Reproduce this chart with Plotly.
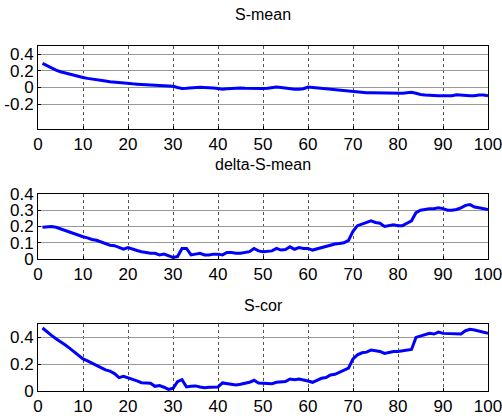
import plotly.graph_objects as go

x = list(range(1, 101))

s_mean = [0.29, 0.26, 0.23, 0.21, 0.19, 0.175, 0.16, 0.145, 0.13, 0.12,
          0.11, 0.10, 0.092, 0.085, 0.078, 0.07, 0.063, 0.057, 0.052, 0.048,
          0.044, 0.040, 0.036, 0.032, 0.028, 0.024, 0.02, 0.016, 0.012, 0.015,
          0.0, -0.012, -0.01, -0.005, 0.0, 0.002, 0.0, 0.0, -0.005, -0.012,
          -0.02, -0.015, -0.01, -0.005, -0.005, -0.01, -0.012, -0.012, -0.01, -0.012,
          -0.01, 0.0, 0.005, 0.0, -0.008, -0.015, -0.02, -0.02, -0.015, 0.005,
          0.0, -0.005, -0.01, -0.015, -0.025, -0.03, -0.035, -0.04, -0.045, -0.05,
          -0.058, -0.062, -0.062, -0.063, -0.065, -0.068, -0.07, -0.07, -0.07, -0.072,
          -0.07, -0.063, -0.058, -0.07, -0.085, -0.09, -0.095, -0.1, -0.1, -0.1,
          -0.1, -0.1, -0.088, -0.095, -0.1, -0.1, -0.1, -0.09, -0.09, -0.1]

delta_s_mean = [0.195, 0.198, 0.2, 0.195, 0.185, 0.178, 0.168, 0.158, 0.148, 0.137,
                0.13, 0.12, 0.115, 0.105, 0.092, 0.085, 0.082, 0.072, 0.06, 0.07,
                0.06, 0.052, 0.045, 0.04, 0.035, 0.035, 0.025, 0.03, 0.018, 0.01,
                0.015, 0.065, 0.065, 0.025, 0.03, 0.035, 0.025, 0.025, 0.03, 0.03,
                0.025, 0.04, 0.04, 0.035, 0.035, 0.04, 0.045, 0.065, 0.05, 0.045,
                0.048, 0.05, 0.065, 0.055, 0.058, 0.075, 0.06, 0.07, 0.065, 0.065,
                0.055, 0.062, 0.07, 0.08, 0.085, 0.092, 0.095, 0.1, 0.115, 0.17,
                0.205, 0.215, 0.225, 0.235, 0.225, 0.22, 0.2, 0.205, 0.21, 0.205,
                0.205, 0.22, 0.235, 0.285, 0.3, 0.305, 0.31, 0.31, 0.315, 0.31,
                0.3, 0.3, 0.305, 0.315, 0.33, 0.335, 0.32, 0.315, 0.31, 0.305]

s_cor = [0.47, 0.44, 0.415, 0.39, 0.37, 0.345, 0.32, 0.295, 0.27, 0.24,
         0.225, 0.21, 0.195, 0.175, 0.158, 0.148, 0.13, 0.1, 0.11, 0.1,
         0.088, 0.075, 0.062, 0.058, 0.058, 0.035, 0.04, 0.028, 0.012, 0.02,
         0.07, 0.085, 0.03, 0.035, 0.038, 0.03, 0.025, 0.028, 0.03, 0.03,
         0.06, 0.055, 0.048, 0.045, 0.05, 0.055, 0.065, 0.08, 0.06, 0.058,
         0.058, 0.055, 0.065, 0.067, 0.07, 0.09, 0.085, 0.09, 0.085, 0.075,
         0.065, 0.08, 0.095, 0.1, 0.12, 0.125, 0.14, 0.155, 0.17, 0.24,
         0.27, 0.285, 0.29, 0.305, 0.3, 0.295, 0.28, 0.29, 0.295, 0.295,
         0.3, 0.305, 0.31, 0.4, 0.41, 0.425, 0.43, 0.425, 0.44, 0.43,
         0.43, 0.43, 0.43, 0.425, 0.45, 0.46, 0.455, 0.445, 0.435, 0.43]

titles = ["S-mean", "delta-S-mean", "S-cor"]
series = [s_mean, delta_s_mean, s_cor]
y_ranges = [[-0.5, 0.5], [0, 0.4], [0, 0.5]]
y_ticks = [[-0.2, 0, 0.2, 0.4], [0, 0.1, 0.2, 0.3, 0.4], [0, 0.2, 0.4]]
y_ticklabels = [["-0.2", "0", "0.2", "0.4"], ["0", "0.1", "0.2", "0.3", "0.4"], ["0", "0.2", "0.4"]]
x_ticks = list(range(0, 101, 10))

W, H = 502, 420
x_dom = [38 / W, 488 / W]
y_px = [(46, 129), (194, 259), (324, 391)]
title_px = [15, 165, 305]

FONT = "Liberation Sans, Arial, sans-serif"

fig = go.Figure()
annotations = []
for i in range(3):
    n = "" if i == 0 else str(i + 1)
    fig.add_trace(go.Scatter(x=x, y=series[i], mode="lines",
                             line=dict(color="#0000ff", width=3),
                             xaxis="x" + n, yaxis="y" + n, showlegend=False))
    top, bot = y_px[i]
    fig.update_layout(**{
        "xaxis" + n: dict(domain=x_dom, range=[0, 100], tickvals=x_ticks,
                          anchor="y" + n, showline=True, mirror=True,
                          linecolor="black", linewidth=1, showgrid=True,
                          gridcolor="#555555", griddash="dot", gridwidth=1,
                          ticks="inside", ticklen=3, tickcolor="black",
                          automargin=False, ticklabeloverflow="allow",
                          zeroline=False, tickfont=dict(size=17, color="black", family=FONT)),
        "yaxis" + n: dict(domain=[1 - bot / H, 1 - top / H], range=y_ranges[i],
                          tickvals=y_ticks[i], ticktext=y_ticklabels[i],
                          anchor="x" + n, showline=True, mirror=True,
                          linecolor="black", linewidth=1, showgrid=True,
                          gridcolor="#999999", gridwidth=1, zeroline=False,
                          ticks="inside", ticklen=3, tickcolor="black",
                          automargin=False, ticklabeloverflow="allow",
                          tickfont=dict(size=17, color="black", family=FONT)),
    })
    annotations.append(dict(text=titles[i], x=0.5 * (x_dom[0] + x_dom[1]),
                            y=1 - title_px[i] / H, xref="paper", yref="paper",
                            showarrow=False, xanchor="center", yanchor="middle",
                            font=dict(size=16, color="black", family=FONT)))

fig.update_layout(width=W, height=H, margin=dict(l=0, r=0, t=0, b=0, autoexpand=False),
                  paper_bgcolor="white", plot_bgcolor="white",
                  annotations=annotations)

fig.write_html("out.html", config={"displayModeBar": False})

# remove the browser's default page margin so the figure sits at the window origin
with open("out.html", "r", encoding="utf-8") as f:
    html = f.read()
html = html.replace("<head>", "<head><style>html,body{margin:0;padding:0;overflow:hidden;}</style>", 1)
with open("out.html", "w", encoding="utf-8") as f:
    f.write(html)
